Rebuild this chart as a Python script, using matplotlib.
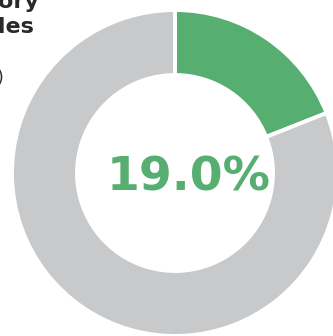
import matplotlib.pyplot as plt

labels = ["Share", "Rest"]
values = [19.0, 81.0]
colors = ["#56ae70", "#c8c9cb"]
title_lines = ["Category", "Vehicles", "(units)"]

fig = plt.figure(figsize=(3.33, 3.36), dpi=100)
ax = fig.add_axes([0, 0, 1, 1])

ax.pie(values, colors=colors, startangle=90, counterclock=False,
       center=(175, 163), radius=163,
       wedgeprops=dict(width=65, edgecolor="white", linewidth=2.8))
ax.set_xlim(0, 333)
ax.set_ylim(0, 336)
ax.set_aspect("equal")
ax.axis("off")

ax.text(189, 158, "%.1f%%" % values[0], color=colors[0], fontsize=34,
        fontweight="heavy", ha="center", va="center")

ax.text(40, 328, title_lines[0], fontsize=16, fontweight="bold",
        ha="right", va="baseline", color="#2a2a2a")
ax.text(35, 303, title_lines[1], fontsize=16, fontweight="bold",
        ha="right", va="baseline", color="#2a2a2a")
ax.text(4, 253, title_lines[2], fontsize=12,
        ha="right", va="baseline", color="#2a2a2a")

fig.savefig("out.png", dpi=100)
